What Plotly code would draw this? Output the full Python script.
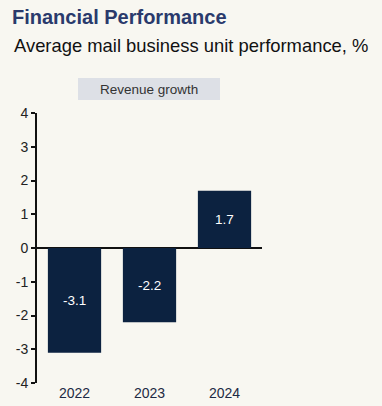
import plotly.graph_objects as go

years = ["2022", "2023", "2024"]
revenue_growth = [-3.1, -2.2, 1.7]
value_labels = ["-3.1", "-2.2", "1.7"]
y_ticks = [-4, -3, -2, -1, 0, 1, 2, 3, 4]
y_tick_labels = ["-4", "-3", "-2", "-1", "0", "1", "2", "3", "4"]

W, H = 382, 406
L, R, T, B = 37, 262, 113, 383
pw, ph = R - L, B - T

def px(x):
    return (x - L) / pw

def py(y):
    return (B - y) / ph

FONT = "Liberation Sans, Arial, sans-serif"
BG = "#f8f7f1"

fig = go.Figure(
    go.Bar(
        x=years,
        y=revenue_growth,
        text=value_labels,
        textposition="inside",
        insidetextanchor="middle",
        textfont=dict(color="white", size=13.5, family=FONT),
        marker=dict(color="#0c2240", line=dict(width=0)),
        width=0.71,
        hoverinfo="skip",
    )
)

fig.update_layout(
    width=W,
    height=H,
    paper_bgcolor=BG,
    plot_bgcolor=BG,
    margin=dict(l=L, r=W - R, t=T, b=H - B, pad=0, autoexpand=False),
    showlegend=False,
    font=dict(family=FONT),
    title=dict(
        text="<b>Financial Performance</b>",
        font=dict(size=20, color="#2a3a6c", family=FONT),
        xref="container", yref="container",
        x=12 / W, xanchor="left",
        y=1 - 17 / H, yanchor="middle",
        automargin=False,
    ),
    xaxis=dict(
        type="category",
        range=[-0.5, 2.5],
        showline=False,
        showgrid=False,
        zeroline=False,
        ticks="",
        automargin=False,
        tickfont=dict(size=14, color="#1e2a44", family=FONT),
        fixedrange=True,
    ),
    yaxis=dict(
        range=[-4, 4],
        tickvals=y_ticks,
        ticktext=y_tick_labels,
        showgrid=False,
        showline=True,
        linecolor="#111111",
        linewidth=2,
        ticks="outside",
        ticklen=4,
        tickwidth=2,
        tickcolor="#111111",
        zeroline=True,
        zerolinecolor="#111111",
        zerolinewidth=2,
        automargin=False,
        tickfont=dict(size=14, color="#222222", family=FONT),
        fixedrange=True,
    ),
    shapes=[
        dict(
            type="rect", xref="paper", yref="paper",
            x0=px(78), x1=px(220), y0=py(100), y1=py(78),
            fillcolor="#dde0e6", line=dict(width=0), layer="below",
        )
    ],
    annotations=[
        dict(
            text="Average mail business unit performance, %",
            xref="paper", yref="paper",
            x=px(12), xanchor="left",
            y=py(46), yanchor="middle",
            showarrow=False,
            font=dict(size=18.4, color="#111111", family=FONT),
        ),
        dict(
            text="Revenue growth",
            xref="paper", yref="paper",
            x=px(149), xanchor="center",
            y=py(89), yanchor="middle",
            showarrow=False,
            font=dict(size=13.5, color="#333333", family=FONT),
        ),
    ],
)

fig.write_html(
    "out.html",
    config={"displayModeBar": False, "responsive": False},
    post_script="document.body.style.margin='0';document.body.style.background='%s';" % BG,
)
